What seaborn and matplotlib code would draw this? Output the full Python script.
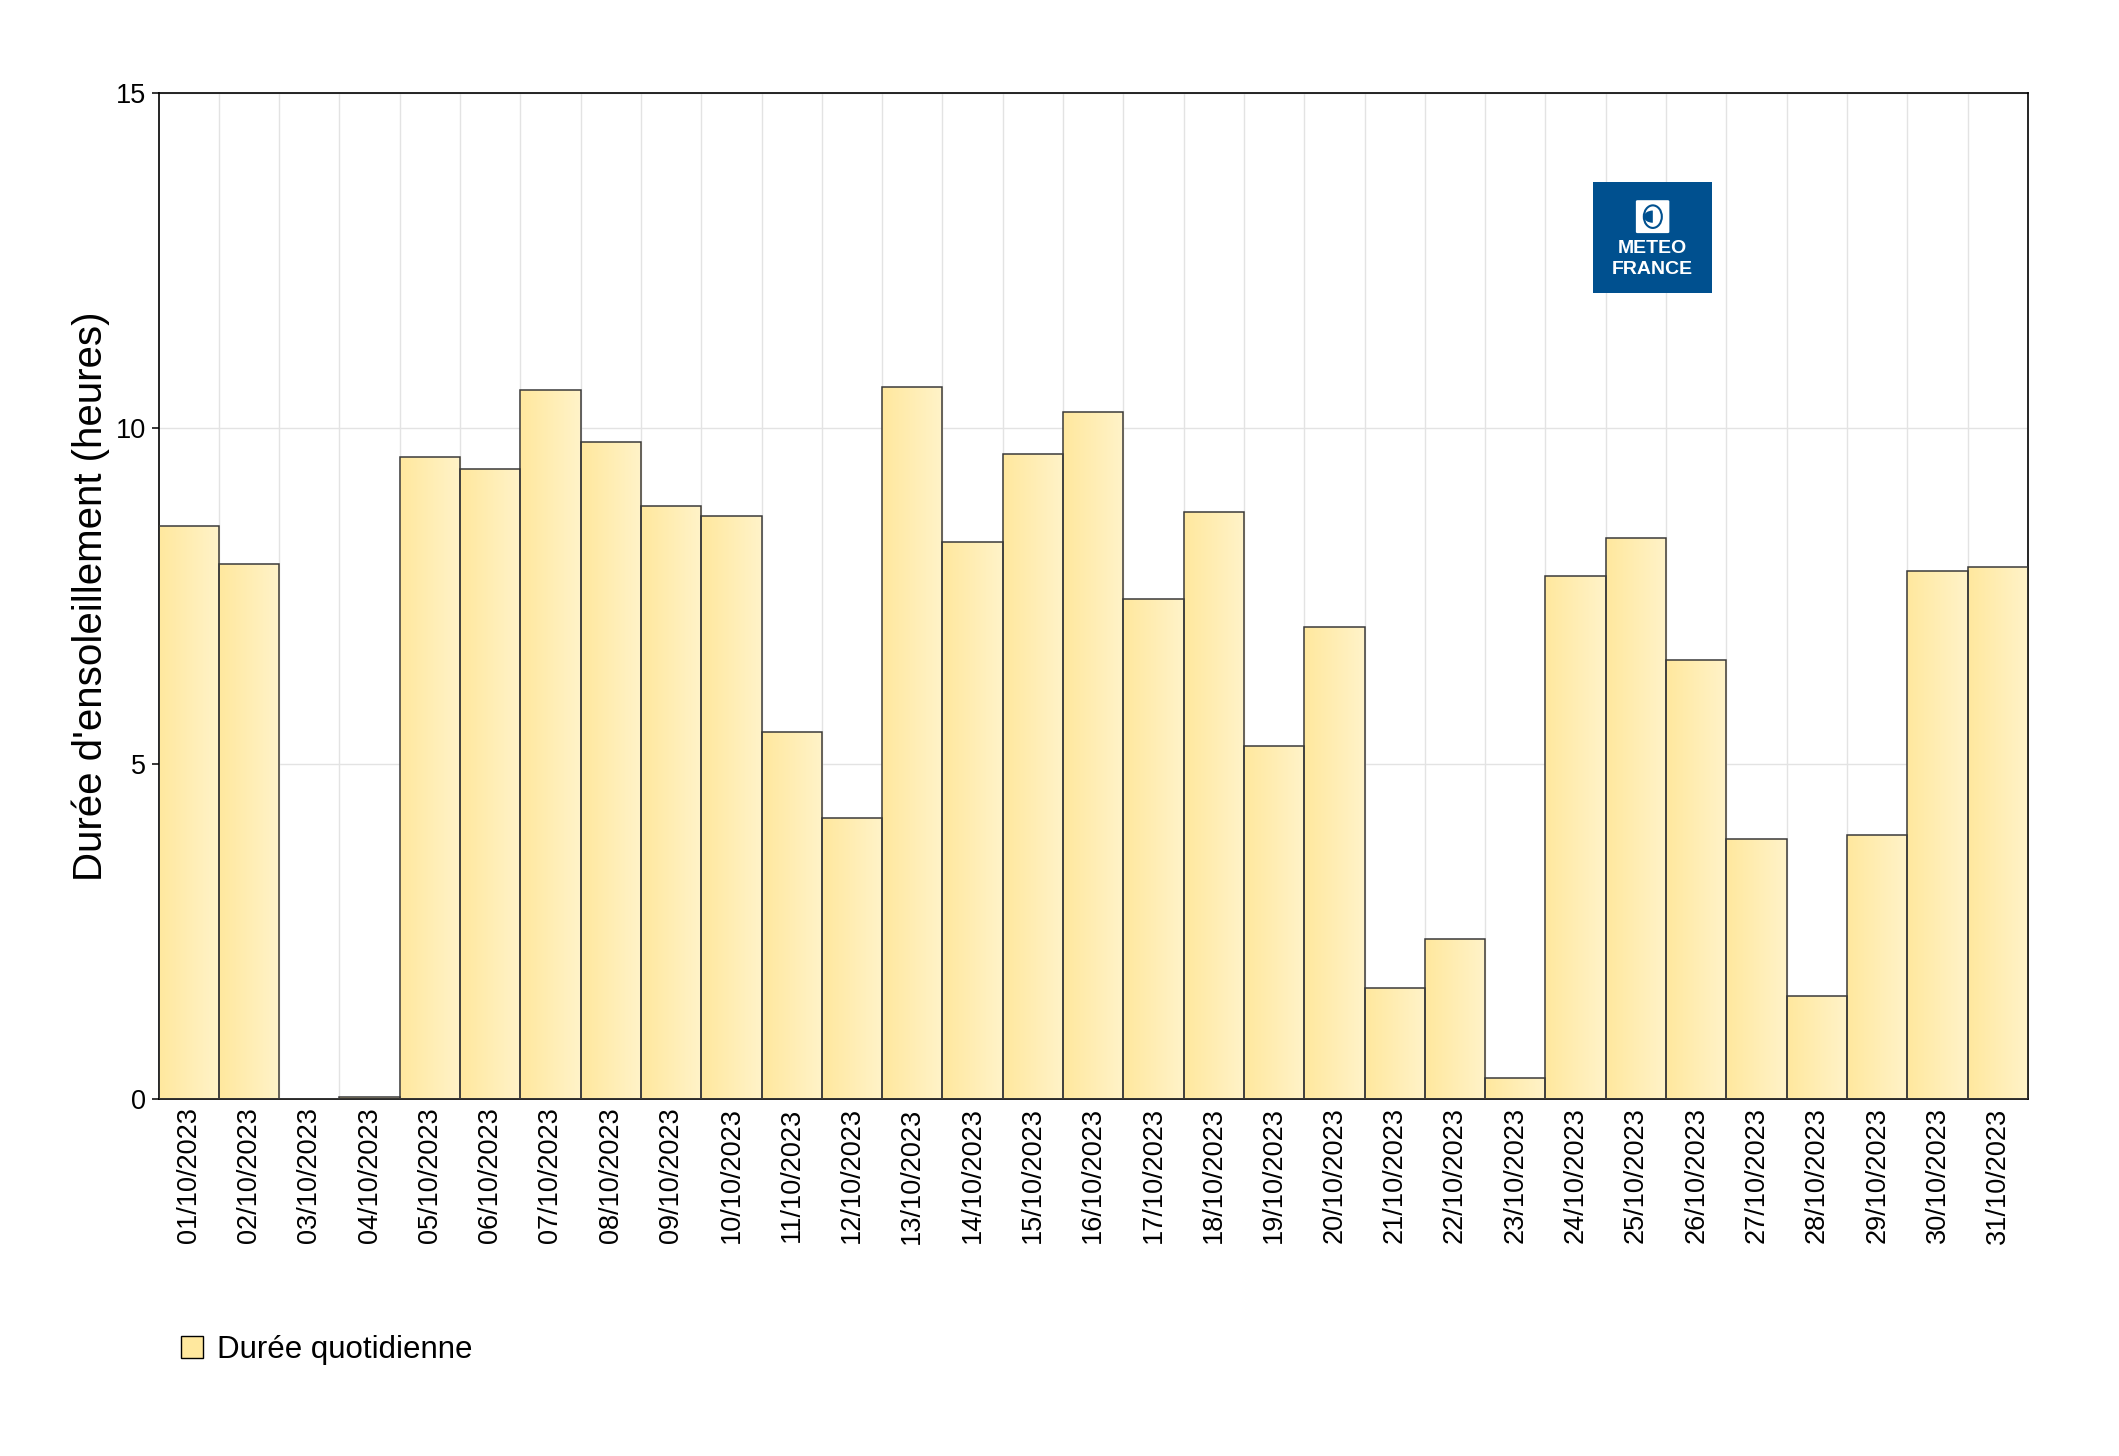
import numpy as np
import matplotlib
matplotlib.use("Agg")
import matplotlib.pyplot as plt
import matplotlib.patches as mpatches
from matplotlib.colors import LinearSegmentedColormap
import seaborn as sns

# --- Data ---
dates = [f"{d:02d}/10/2023" for d in range(1, 32)]
hours = [8.55, 7.98, 0.0, 0.03, 9.58, 9.40, 10.58, 9.80, 8.85, 8.69,
         5.48, 4.19, 10.62, 8.31, 9.62, 10.24, 7.46, 8.75, 5.26, 7.04,
         1.65, 2.38, 0.32, 7.80, 8.37, 6.55, 3.87, 1.53, 3.93, 7.88, 7.94]
y_ticks = [0, 5, 10, 15]

# --- Style ---
sns.set_theme(style="white")
plt.rcParams["font.family"] = ["Liberation Sans", "DejaVu Sans"]
plt.rcParams["text.color"] = "black"
plt.rcParams["axes.labelcolor"] = "black"
plt.rcParams["xtick.color"] = "black"
plt.rcParams["ytick.color"] = "black"

FILL_LEFT = "#FFE89E"
FILL_RIGHT = "#FFF3C9"
EDGE = "#3a3a3a"

fig = plt.figure(figsize=(21.19, 14.56), dpi=100)
ax = fig.add_axes([0.0748, 0.2452, 0.957 - 0.0748, 0.936 - 0.2452])

sns.barplot(x=dates, y=hours, color=FILL_LEFT, saturation=1, width=1,
            edgecolor=EDGE, linewidth=1.1, ax=ax, zorder=3)

# horizontal gradient inside each bar
cmap = LinearSegmentedColormap.from_list("sun", [FILL_LEFT, FILL_RIGHT])
grad = np.linspace(0, 1, 256).reshape(1, -1)
for p in list(ax.patches):
    x0, y0 = p.get_x(), p.get_y()
    w, h = p.get_width(), p.get_height()
    if h <= 0:
        continue
    im = ax.imshow(grad, cmap=cmap, aspect="auto", extent=(x0, x0 + w, y0, y0 + h),
                   zorder=2.5, interpolation="bilinear")
    im.set_clip_path(p)
    p.set_facecolor("none")

ax.set_xlim(-0.5, len(dates) - 0.5)
ax.set_ylim(0, 15)
ax.set_yticks(y_ticks)
ax.set_yticklabels([str(t) for t in y_ticks], fontsize=19.5)
ax.set_xticks(range(len(dates)))
ax.set_xticklabels(dates, rotation=90, fontsize=19.5)
ax.set_xticks(np.arange(0.5, len(dates) - 0.5, 1), minor=True)
ax.tick_params(axis="x", which="both", length=0, pad=6)
ax.tick_params(axis="y", which="major", length=5, width=1.1, direction="out", left=True, pad=4)

ax.grid(False)
ax.grid(axis="x", which="minor", color="#e3e3e3", linewidth=1.0, zorder=0)
ax.grid(axis="y", which="major", color="#e3e3e3", linewidth=1.0, zorder=0)
ax.set_axisbelow(True)

for s in ax.spines.values():
    s.set_color("black")
    s.set_linewidth(1.2)

ax.set_xlabel("")
ax.set_ylabel("Durée d'ensoleillement (heures)", fontsize=29, labelpad=4)

# legend
handle = mpatches.Patch(facecolor=FILL_LEFT, edgecolor="black", linewidth=1.0,
                        label="Durée quotidienne")
fig.legend(handles=[handle], loc="center left", bbox_to_anchor=(0.0855, 0.073),
           frameon=False, fontsize=22.5, handlelength=0.7, handleheight=0.7,
           handletextpad=0.45, borderaxespad=0, borderpad=0)

# logo
blue = "#00508F"
fig.patches.append(mpatches.Rectangle((0.7518, 0.7988), 0.0562, 0.0762,
                                      transform=fig.transFigure, facecolor=blue,
                                      edgecolor="none", zorder=5))
fig.patches.append(mpatches.FancyBboxPatch((0.7728, 0.8407), 0.0142, 0.0210,
                                           boxstyle="round,pad=0.0008",
                                           transform=fig.transFigure, facecolor="white",
                                           edgecolor="none", zorder=6))
fig.patches.append(mpatches.Ellipse((0.7800, 0.8512), 0.0085, 0.0155,
                                    transform=fig.transFigure, facecolor="none",
                                    edgecolor=blue, linewidth=1.5, zorder=7))
fig.patches.append(mpatches.Wedge((0.7800, 0.8512), 0.0042, 90, 270,
                                  transform=fig.transFigure, facecolor=blue,
                                  edgecolor="none", zorder=7))
fig.text(0.7799, 0.8290, "METEO", color="white", fontsize=14, fontweight="bold",
         ha="center", va="center", zorder=8)
fig.text(0.7799, 0.8150, "FRANCE", color="white", fontsize=14, fontweight="bold",
         ha="center", va="center", zorder=8)

fig.savefig("out.png", dpi=100, facecolor="white")
